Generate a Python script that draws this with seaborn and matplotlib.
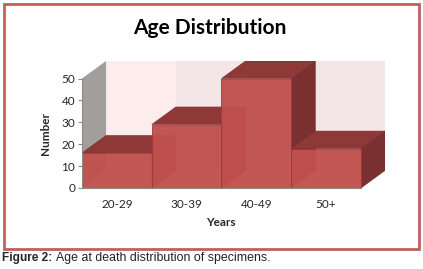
import matplotlib
matplotlib.use('Agg')
import matplotlib.pyplot as plt
import seaborn as sns
import pandas as pd
from matplotlib.patches import Polygon, Rectangle

# data
ages = ['20-29', '30-39', '40-49', '50+']
counts = [16, 29, 50, 18]
yticks = [0, 10, 20, 30, 40, 50]

front_col = '#c0504d'
top_col = '#8e3838'
side_col = '#7a3030'

# 3d depth in data units
DX = 0.345
DY = 8.0
YTOP = 50 + DY


def myplot():
	sns.set_style('white')
	plt.rcParams['font.family'] = ['Lato', 'DejaVu Sans']
	fig = plt.figure(figsize=(4.23, 2.69), dpi=100)
	ax = fig.add_axes([82/423, (269-188)/269, 303/423, 127/269])
	ax.patch.set_alpha(0)

	df = pd.DataFrame({'Years': ages, 'Number': counts})
	p = sns.barplot(x='Years', y='Number', data=df, width=1.0, color=front_col,
					saturation=1, edgecolor='#9a3a38', linewidth=0.6, zorder=5, ax=ax)
	bars = list(p.patches)
	for bar in bars:
		bar.set_alpha(0.96)

	n = len(ages)
	# back wall, alternating bands
	band_cols = ['#fcecec', '#f4e6e7']
	for i in range(n):
		ax.add_patch(Rectangle((i - 0.5 + DX, DY), 1, YTOP - DY,
							   facecolor=band_cols[i % 2], edgecolor='none', zorder=0))
	# left side wall
	ax.add_patch(Polygon([(-0.5, 0), (-0.5, 50), (-0.5 + DX, YTOP), (-0.5 + DX, DY)],
						 closed=True, facecolor='#a29e9e', edgecolor='none', zorder=1))

	# tops and sides of the bars
	for k, bar in enumerate(bars):
		x0 = bar.get_x()
		x1 = x0 + bar.get_width()
		h = bar.get_height()
		side = Polygon([(x1, 0), (x1, h), (x1 + DX, h + DY), (x1 + DX, DY)], closed=True,
					   facecolor=side_col, edgecolor='#6e2a2a', linewidth=0.4, zorder=2 + k*0.1)
		top = Polygon([(x0, h), (x1, h), (x1 + DX, h + DY), (x0 + DX, h + DY)], closed=True,
					  facecolor=top_col, edgecolor='#7e3030', linewidth=0.4, zorder=2.05 + k*0.1)
		ax.add_patch(side)
		ax.add_patch(top)

	ax.set_xlim(-0.5, n - 0.5 + DX)
	ax.set_ylim(0, YTOP)
	ax.set_yticks(yticks)
	ax.yaxis.set_ticks_position('left')
	ax.tick_params(axis='y', length=3, width=0.8, color='#8a8a8a', labelsize=8.5, pad=2)
	ax.tick_params(axis='x', length=0, labelsize=8.5, pad=8)
	for s in ['top', 'right']:
		ax.spines[s].set_visible(False)
	ax.spines['left'].set_bounds(0, 50)
	ax.spines['left'].set_color('#8a8a8a')
	ax.spines['bottom'].set_bounds(-0.5, n - 0.5)
	ax.spines['bottom'].set_color('#8a8a8a')
	ax.spines['left'].set_zorder(6)
	ax.spines['bottom'].set_zorder(6)
	ax.set_xlabel('Years', fontsize=8.5, fontweight='bold')
	ax.set_ylabel('Number', fontsize=8.5, fontweight='bold')
	ax.xaxis.set_label_coords((221 - 82) / 303, -(223 - 188) / 127, transform=ax.transAxes)
	ax.xaxis.label.set_va('center')
	ax.yaxis.set_label_coords(-(82 - 45) / 303, 25 / YTOP, transform=ax.transAxes)
	ax.yaxis.label.set_va('center')

	fig.text(0.497, 0.895, 'Age Distribution', ha='center', va='center',
			 fontsize=15, fontweight='bold', color='black')
	fig.patches.append(Rectangle((4/423, (269-249)/269), 415/423, 245/269, transform=fig.transFigure,
								 facecolor='none', edgecolor='#c0605e', linewidth=2.0))
	fig.text(2/423, 1 - 258/269, 'Figure 2:', ha='left', va='center', fontsize=8.6,
			 fontweight='bold', family=['Liberation Sans'])
	fig.text(56/423, 1 - 258/269, 'Age at death distribution of specimens.', ha='left',
			 va='center', fontsize=8.9, color='#222222', family=['Liberation Sans'])

	plt.savefig('out.png', dpi=100)


myplot()
